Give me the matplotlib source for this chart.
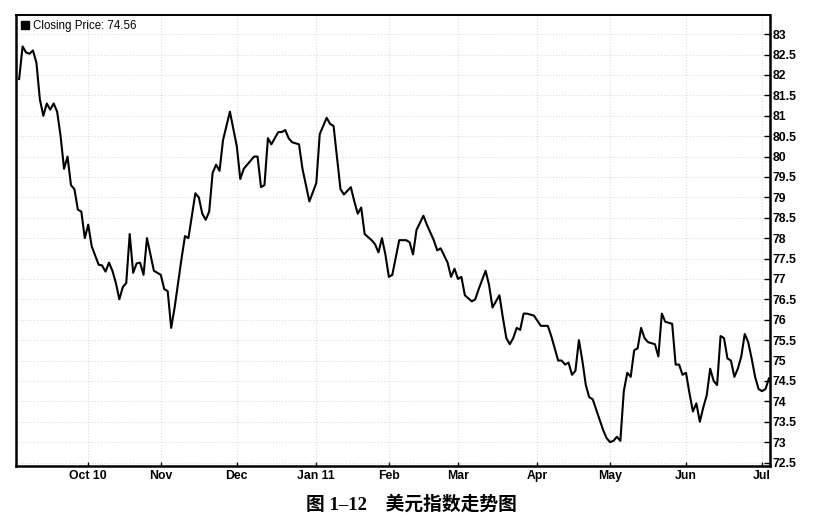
import matplotlib
matplotlib.use("Agg")
import matplotlib.pyplot as plt
from matplotlib.lines import Line2D
import pandas as pd

# ---- data ----
start_date = "2010-09-03"          # first trading day shown
n_days = 218                       # trading days on the axis
trading_day = [0, 1, 2, 3, 4, 5, 6, 7, 8, 9,
               10, 11, 12, 13, 14, 15, 16, 17, 18, 19,
               20, 21, 23, 24, 25, 26, 27, 28, 29, 30,
               31, 32, 33, 34, 35, 36, 37, 39, 40, 41,
               42, 43, 44, 45, 46, 47, 48, 49, 51, 52,
               53, 54, 55, 56, 57, 58, 59, 61, 63, 64,
               65, 68, 69, 70, 71, 72, 73, 75, 76, 77,
               78, 79, 81, 82, 83, 84, 86, 87, 89, 90,
               91, 93, 94, 96, 97, 98, 99, 100, 102, 103,
               104, 105, 106, 107, 108, 110, 112, 113, 114, 115,
               117, 118, 120, 121, 122, 124, 125, 126, 127, 128,
               129, 131, 132, 133, 135, 136, 137, 139, 140, 141,
               142, 143, 144, 145, 146, 147, 149, 151, 153, 154,
               155, 156, 157, 158, 159, 160, 161, 162, 163, 164,
               165, 166, 167, 169, 170, 171, 172, 173, 174, 175,
               176, 177, 178, 179, 180, 181, 182, 184, 185, 186,
               187, 189, 190, 191, 192, 193, 194, 195, 196, 197,
               198, 199, 200, 201, 202, 203, 204, 205, 206, 207,
               208, 209, 210, 211, 212, 213, 214, 215, 216, 217]
closes = [81.9, 82.7, 82.55, 82.52, 82.6, 82.3, 81.4, 81.0, 81.3, 81.15,
          81.3, 81.1, 80.5, 79.7, 80.0, 79.3, 79.2, 78.7, 78.65, 78.0,
          78.33, 77.8, 77.35, 77.33, 77.18, 77.4, 77.2, 76.9, 76.5, 76.8,
          76.9, 78.1, 77.15, 77.38, 77.4, 77.1, 78.0, 77.2, 77.15, 77.1,
          76.75, 76.7, 75.8, 76.3, 76.9, 77.5, 78.05, 78.0, 79.1, 79.0,
          78.6, 78.45, 78.65, 79.6, 79.8, 79.65, 80.4, 81.1, 80.25, 79.45,
          79.7, 80.0, 80.0, 79.25, 79.3, 80.45, 80.3, 80.6, 80.6, 80.65,
          80.45, 80.35, 80.3, 79.7, 79.3, 78.9, 79.35, 80.55, 80.95, 80.8,
          80.75, 79.2, 79.07, 79.25, 78.9, 78.6, 78.75, 78.1, 77.95, 77.85,
          77.65, 78.0, 77.6, 77.05, 77.1, 77.95, 77.95, 77.9, 77.6, 78.2,
          78.55, 78.33, 77.95, 77.7, 77.75, 77.4, 77.05, 77.25, 77.0, 77.05,
          76.6, 76.45, 76.5, 76.75, 77.2, 76.85, 76.3, 76.6, 76.05, 75.55,
          75.4, 75.55, 75.8, 75.75, 76.15, 76.15, 76.1, 75.85, 75.85, 75.6,
          75.3, 75.0, 75.0, 74.9, 74.95, 74.65, 74.75, 75.5, 75.0, 74.4,
          74.1, 74.05, 73.8, 73.3, 73.1, 73.0, 73.03, 73.13, 73.03, 74.25,
          74.7, 74.6, 75.25, 75.3, 75.8, 75.55, 75.45, 75.4, 75.1, 76.15,
          75.95, 75.9, 74.9, 74.9, 74.65, 74.7, 74.2, 73.75, 73.95, 73.5,
          73.85, 74.15, 74.8, 74.5, 74.4, 75.6, 75.55, 75.05, 75.0, 74.6,
          74.8, 75.1, 75.65, 75.45, 75.05, 74.6, 74.3, 74.25, 74.3, 74.56]
month_labels = ["Oct 10", "Nov", "Dec", "Jan 11", "Feb", "Mar", "Apr", "May", "Jun", "Jul"]
y_ticks = [72.5, 73, 73.5, 74, 74.5, 75, 75.5, 76, 76.5, 77, 77.5,
           78, 78.5, 79, 79.5, 80, 80.5, 81, 81.5, 82, 82.5, 83]
y_tick_labels = ["72.5", "73", "73.5", "74", "74.5", "75", "75.5", "76", "76.5", "77", "77.5",
                 "78", "78.5", "79", "79.5", "80", "80.5", "81", "81.5", "82", "82.5", "83"]
title = "图 1–12　美元指数走势图"

# ---- build ----
dates = pd.bdate_range(start_date, periods=n_days)
month_start_idx = []
for i in range(1, len(dates)):
    if dates[i].month != dates[i - 1].month:
        month_start_idx.append(i)

fig = plt.figure(figsize=(8.22, 5.21), dpi=100)
ax = fig.add_axes([0.0195, 0.106, 0.9172, 0.866])

ax.plot(trading_day, closes, color="black", linewidth=1.5)

ax.set_xlim(-0.9, 217.3)
ax.set_ylim(72.42, 83.48)

ax.yaxis.tick_right()
ax.set_yticks(y_ticks)
ax.set_yticklabels(y_tick_labels, fontsize=8.8, fontweight="bold", family="Liberation Sans")
ax.tick_params(axis="y", direction="in", length=4, width=1, pad=2, right=True, left=False)

ax.set_xticks(month_start_idx)
ax.set_xticklabels(month_labels, fontsize=8.8, fontweight="bold", family="Liberation Sans")
ax.tick_params(axis="x", direction="in", length=3, width=1, pad=3)

ax.grid(True, color="#d6d6d6", linestyle=(0, (1, 2)), linewidth=0.7)
ax.set_axisbelow(True)

for side in ["left", "bottom", "right"]:
    ax.spines[side].set_linewidth(1.8)
ax.spines["top"].set_linewidth(1.4)

handle = Line2D([], [], marker="s", linestyle="none", color="black", markersize=6)
ax.legend([handle], [f"Closing Price: {closes[-1]:.2f}"], loc="upper left",
          frameon=False, handlelength=0.6, handletextpad=0.4,
          borderaxespad=0.25, borderpad=0.2, prop={"family": "Liberation Sans", "size": 8.3})

fig.text(0.5, 0.031, title, ha="center", va="center", fontsize=13.5, fontweight="bold",
         family=["Liberation Serif", "Noto Sans CJK SC"])

fig.savefig("out.png", dpi=100)
